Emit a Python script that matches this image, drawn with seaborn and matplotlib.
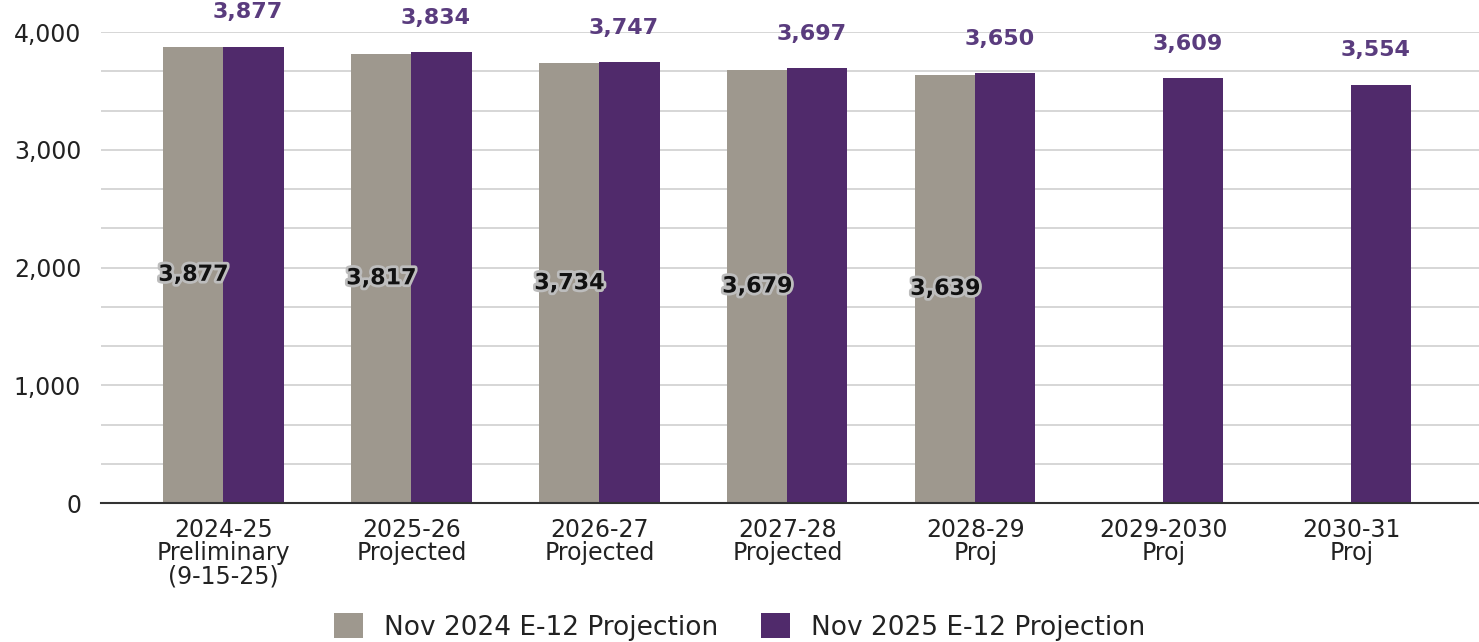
import numpy as np
import pandas as pd
import matplotlib
matplotlib.use("Agg")
import matplotlib.pyplot as plt
import matplotlib.patheffects as pe
from matplotlib.ticker import FuncFormatter, MultipleLocator
from matplotlib.patches import Patch
import seaborn as sns

categories = ["2024-25\nPreliminary\n(9-15-25)", "2025-26\nProjected", "2026-27\nProjected",
              "2027-28\nProjected", "2028-29\nProj", "2029-2030\nProj", "2030-31\nProj"]
nov2024 = [3877, 3817, 3734, 3679, 3639, np.nan, np.nan]
nov2025 = [3877, 3834, 3747, 3697, 3650, 3609, 3554]
series_names = ["Nov 2024 E-12 Projection", "Nov 2025 E-12 Projection"]
colors = ["#9E988E", "#502A6B"]

df = pd.DataFrame({
    "cat": categories * 2,
    "series": [series_names[0]] * len(categories) + [series_names[1]] * len(categories),
    "value": nov2024 + nov2025,
})

sns.set_theme(style="white")
plt.rcParams["font.family"] = ["DejaVu Sans"]

fig = plt.figure(figsize=(14.79, 6.42), dpi=100)
ax = fig.add_axes([0.068, 0.2165, 0.932, 0.7335])

sns.barplot(data=df, x="cat", y="value", hue="series", palette=colors,
            width=0.64, gap=0, ax=ax, legend=False, saturation=1,
            hue_order=series_names, order=categories, linewidth=0)

ax.set_xlim(-0.654, 6.68)
ax.set_ylim(0, 4000)
ax.yaxis.set_major_locator(MultipleLocator(1000))
ax.yaxis.set_minor_locator(MultipleLocator(1000 / 3))
ax.yaxis.set_major_formatter(FuncFormatter(lambda v, p: f"{int(v):,}"))
ax.grid(axis="y", which="both", color="#D0D0D0", linewidth=1.2)
ax.set_axisbelow(True)
for s in ["top", "right", "left"]:
    ax.spines[s].set_visible(False)
ax.spines["bottom"].set_color("#333333")
ax.spines["bottom"].set_linewidth(1.5)
ax.set_xlabel("")
ax.set_ylabel("")
ax.tick_params(axis="y", which="both", length=0, labelsize=17, labelcolor="#222222", pad=14)
ax.tick_params(axis="x", length=0, labelsize=17, labelcolor="#222222", pad=11)
for lbl in ax.get_xticklabels():
    lbl.set_linespacing(0.95)

w = 0.32
for i, v in enumerate(nov2024):
    if not np.isnan(v):
        ax.text(i - w / 2, v / 2, f"{int(v):,}", ha="center", va="center",
                fontsize=16, fontweight="bold", color="#111111",
                path_effects=[pe.withStroke(linewidth=4, foreground="#BDBDBD")])
for i, v in enumerate(nov2025):
    ax.text(i + w / 2 - 0.03, v + 290, f"{int(v):,}", ha="center", va="center",
            fontsize=16, fontweight="bold", color="#5A3C7E", clip_on=False)

handles = [Patch(facecolor=c, edgecolor="none") for c in colors]
fig.legend(handles, series_names, loc="lower center", bbox_to_anchor=(0.5, -0.035),
           ncol=2, frameon=False, fontsize=19, handlelength=1.1, handleheight=1.1,
           columnspacing=1.6, handletextpad=0.8, labelcolor="#222222")

fig.savefig("out.png", dpi=100)
